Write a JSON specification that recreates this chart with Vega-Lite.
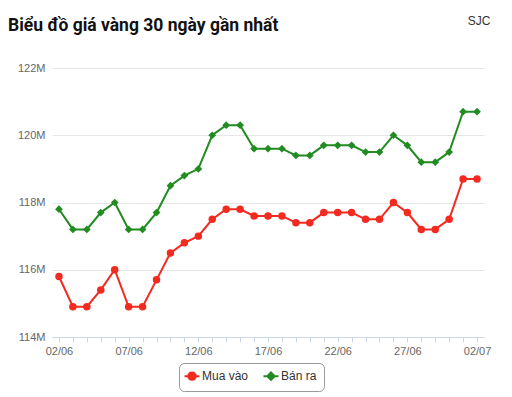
{
  "$schema": "https://vega.github.io/schema/vega-lite/v6.json",
  "width": 432,
  "height": 269,
  "autosize": "none",
  "padding": {"left": 52, "top": 68, "right": 28, "bottom": 60},
  "background": "white",
  "title": {
    "text": "Biểu đồ giá vàng 30 ngày gần nhất",
    "anchor": "start",
    "frame": "group",
    "dx": -44,
    "dy": 24,
    "font": "Roboto",
    "fontSize": 17.5,
    "fontWeight": "bold",
    "color": "#111111"
  },
  "config": {
    "view": {"stroke": null},
    "axis": {"labelFont": "Liberation Sans", "titleFont": "Liberation Sans"},
    "legend": {"labelFont": "Liberation Sans"}
  },
  "data": {
    "values": [
      {"date": "02/06", "Mua vào": 115800000, "Bán ra": 117800000},
      {"date": "03/06", "Mua vào": 114900000, "Bán ra": 117200000},
      {"date": "04/06", "Mua vào": 114900000, "Bán ra": 117200000},
      {"date": "05/06", "Mua vào": 115400000, "Bán ra": 117700000},
      {"date": "06/06", "Mua vào": 116000000, "Bán ra": 118000000},
      {"date": "07/06", "Mua vào": 114900000, "Bán ra": 117200000},
      {"date": "08/06", "Mua vào": 114900000, "Bán ra": 117200000},
      {"date": "09/06", "Mua vào": 115700000, "Bán ra": 117700000},
      {"date": "10/06", "Mua vào": 116500000, "Bán ra": 118500000},
      {"date": "11/06", "Mua vào": 116800000, "Bán ra": 118800000},
      {"date": "12/06", "Mua vào": 117000000, "Bán ra": 119000000},
      {"date": "13/06", "Mua vào": 117500000, "Bán ra": 120000000},
      {"date": "14/06", "Mua vào": 117800000, "Bán ra": 120300000},
      {"date": "15/06", "Mua vào": 117800000, "Bán ra": 120300000},
      {"date": "16/06", "Mua vào": 117600000, "Bán ra": 119600000},
      {"date": "17/06", "Mua vào": 117600000, "Bán ra": 119600000},
      {"date": "18/06", "Mua vào": 117600000, "Bán ra": 119600000},
      {"date": "19/06", "Mua vào": 117400000, "Bán ra": 119400000},
      {"date": "20/06", "Mua vào": 117400000, "Bán ra": 119400000},
      {"date": "21/06", "Mua vào": 117700000, "Bán ra": 119700000},
      {"date": "22/06", "Mua vào": 117700000, "Bán ra": 119700000},
      {"date": "23/06", "Mua vào": 117700000, "Bán ra": 119700000},
      {"date": "24/06", "Mua vào": 117500000, "Bán ra": 119500000},
      {"date": "25/06", "Mua vào": 117500000, "Bán ra": 119500000},
      {"date": "26/06", "Mua vào": 118000000, "Bán ra": 120000000},
      {"date": "27/06", "Mua vào": 117700000, "Bán ra": 119700000},
      {"date": "28/06", "Mua vào": 117200000, "Bán ra": 119200000},
      {"date": "29/06", "Mua vào": 117200000, "Bán ra": 119200000},
      {"date": "30/06", "Mua vào": 117500000, "Bán ra": 119500000},
      {"date": "01/07", "Mua vào": 118700000, "Bán ra": 120700000},
      {"date": "02/07", "Mua vào": 118700000, "Bán ra": 120700000}
    ]
  },
  "transform": [
    {"fold": ["Mua vào", "Bán ra"], "as": ["series", "price"]}
  ],
  "encoding": {
    "x": {
      "field": "date",
      "type": "ordinal",
      "sort": null,
      "scale": {"type": "point", "padding": 0.5},
      "axis": {
        "title": null,
        "labelAngle": 0,
        "labelColor": "#666666",
        "labelFontSize": 11,
        "labelPadding": 3,
        "domainColor": "#ccd6eb",
        "tickColor": "#ccd6eb",
        "tickSize": 5,
        "grid": false,
        "labelExpr": "indexof(['02/06','07/06','12/06','17/06','22/06','27/06','02/07'], datum.label) >= 0 ? datum.label : ''"
      }
    },
    "y": {
      "field": "price",
      "type": "quantitative",
      "scale": {"domain": [114000000, 122000000], "nice": false, "zero": false},
      "axis": {
        "title": null,
        "values": [114000000, 116000000, 118000000, 120000000, 122000000],
        "labelExpr": "(datum.value / 1000000) + 'M'",
        "labelColor": "#666666",
        "labelFontSize": 11,
        "labelPadding": 7,
        "domain": false,
        "ticks": false,
        "gridColor": "#e6e6e6",
        "gridWidth": 1
      }
    },
    "color": {
      "field": "series",
      "type": "nominal",
      "scale": {"domain": ["Mua vào", "Bán ra"], "range": ["#f22a1f", "#228b22"]},
      "legend": {
        "title": null,
        "orient": "none",
        "legendX": 127,
        "legendY": 295,
        "direction": "horizontal",
        "strokeColor": "#999999",
        "cornerRadius": 5,
        "padding": 7,
        "labelFontSize": 12,
        "labelColor": "#333333",
        "symbolType": "M-2,0H2M-1,0A1,1,0,1,1,1,0A1,1,0,1,1,-1,0Z",
        "symbolSize": 56,
        "symbolStrokeWidth": 2,
        "columnPadding": 10,
        "encode": {
          "symbols": {
            "update": {
              "shape": {"signal": "datum.value === 'Mua vào' ? 'M-2,0H2M-1,0A1,1,0,1,1,1,0A1,1,0,1,1,-1,0Z' : 'M-2,0H2M0,-1L1,0L0,1L-1,0Z'"},
              "fill": {"signal": "datum.value === 'Mua vào' ? '#f22a1f' : '#228b22'"},
              "stroke": {"signal": "datum.value === 'Mua vào' ? '#f22a1f' : '#228b22'"},
              "strokeWidth": {"value": 2},
              "fillOpacity": {"value": 1},
              "strokeOpacity": {"value": 1}
            }
          }
        }
      }
    }
  },
  "layer": [
    {
      "mark": {"type": "line", "strokeWidth": 2}
    },
    {
      "transform": [{"filter": "datum.series === 'Mua vào'"}],
      "mark": {"type": "point", "shape": "circle", "filled": true, "opacity": 1, "size": 56},
      "encoding": {
        "x": {"field": "date", "type": "ordinal", "sort": null, "axis": null},
        "color": {"field": "series", "type": "nominal", "legend": null}
      }
    },
    {
      "transform": [{"filter": "datum.series === 'Bán ra'"}],
      "mark": {"type": "point", "shape": "diamond", "filled": true, "opacity": 1, "size": 60},
      "encoding": {
        "x": {"field": "date", "type": "ordinal", "sort": null, "axis": null},
        "color": {"field": "series", "type": "nominal", "legend": null}
      }
    },
    {
      "mark": {"type": "line", "opacity": 0},
      "encoding": {
        "x": {
          "field": "date",
          "type": "ordinal",
          "sort": null,
          "axis": {
            "orient": "top",
            "title": "SJC",
            "labels": false,
            "ticks": false,
            "domain": false,
            "grid": false,
            "titleFont": "Liberation Sans",
            "titleFontSize": 12,
            "titleFontWeight": "normal",
            "titleColor": "#333333",
            "titleAlign": "right",
            "titleBaseline": "alphabetic",
            "titleX": 438,
            "titleY": -44
          }
        },
        "color": {"field": "series", "type": "nominal", "legend": null}
      }
    }
  ],
  "resolve": {"axis": {"x": "independent"}}
}
